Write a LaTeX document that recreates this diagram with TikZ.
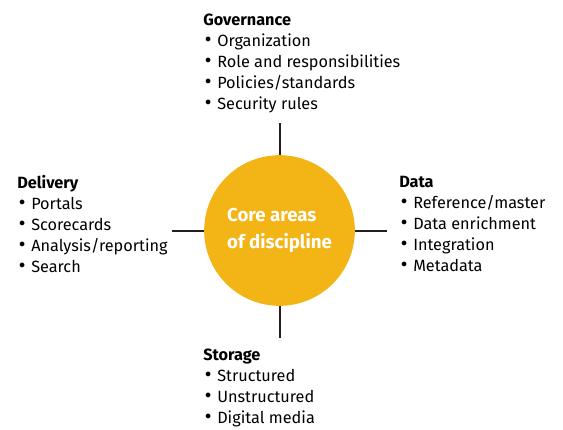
\documentclass[tikz,border=0pt]{standalone}
\usepackage{fontspec}
\setmainfont{Fira Sans}
\newfontfamily\bulletfont{DejaVu Sans}
\begin{document}
\begin{tikzpicture}[x=0.75pt,y=-0.75pt,
  spoke/.style={draw=spokegray,line width=1.5pt},
  hub/.style={circle,fill=coreyellow,minimum size=113pt,inner sep=0pt},
  group/.style={anchor=base west,inner sep=0pt,align=left,font=\fontsize{12.2}{15.75}\selectfont},
  hubtext/.style={text=white,font=\fontsize{14}{20}\selectfont\bfseries,align=left,inner sep=0pt}]
\definecolor{coreyellow}{HTML}{F3B516}
\definecolor{spokegray}{HTML}{231F20}
\newcommand{\itm}[1]{\makebox[10.5pt][l]{\bulletfont\raisebox{0.2pt}{•}}#1}
\useasboundingbox (0,0) rectangle (563,429);
% central hub
\node[hub] (hub) at (279.5,230.5) {};
\node[hubtext] (hubt) at (hub.center) {Core areas\\of discipline};
% spoke ends
\coordinate (n) at (279.5,123);
\coordinate (s) at (279.5,338);
\coordinate (w) at (172,230.5);
\coordinate (e) at (387,230.5);
\draw[spoke] (hub.north) -- (n);
\draw[spoke] (hub.south) -- (s);
\draw[spoke] (hub.west) -- (w);
\draw[spoke] (hub.east) -- (e);
% the four areas (base anchor sits on the last line)
\node[group] (gov) at (203,109) {\textbf{Governance}\\\itm{Organization}\\\itm{Role and responsibilities}\\\itm{Policies/standards}\\\itm{Security rules}};
\node[group] (del) at (17,272) {\textbf{Delivery}\\\itm{Portals}\\\itm{Scorecards}\\\itm{Analysis/reporting}\\\itm{Search}};
\node[group] (dat) at (399,271) {\textbf{Data}\\\itm{Reference/master}\\\itm{Data enrichment}\\\itm{Integration}\\\itm{Metadata}};
\node[group] (sto) at (203,423) {\textbf{Storage}\\\itm{Structured}\\\itm{Unstructured}\\\itm{Digital media}};
\end{tikzpicture}
\end{document}
